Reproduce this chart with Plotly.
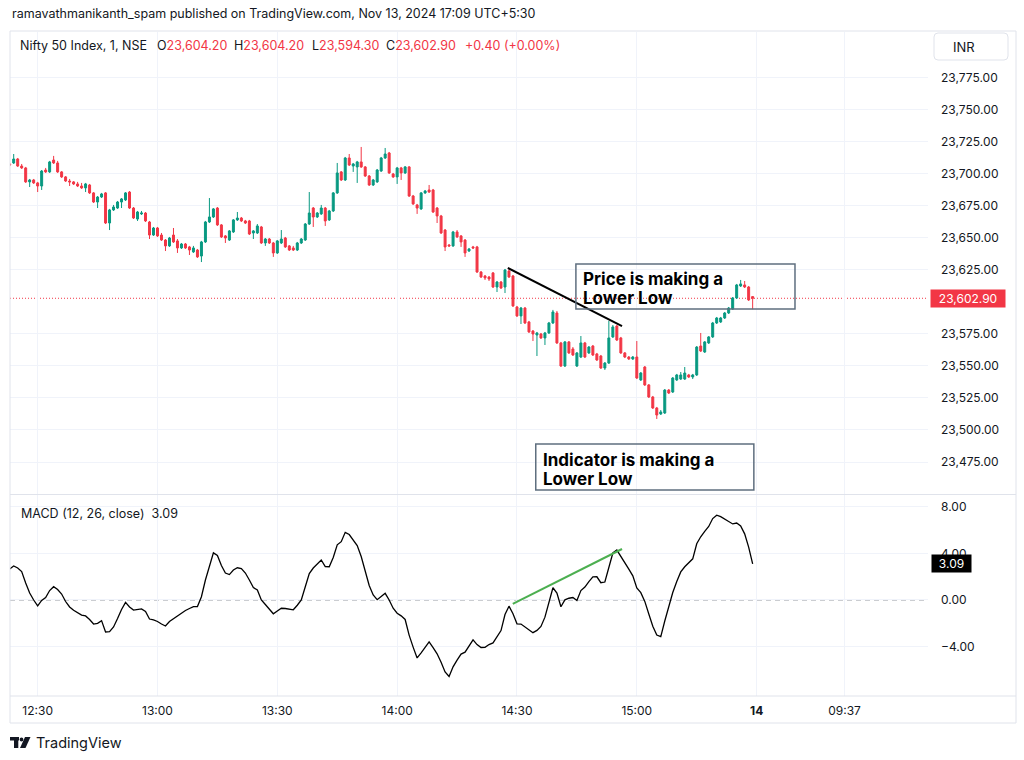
import plotly.graph_objects as go
import pandas as pd

# ---------------- data (Nifty 50, 1-minute bars, 13 Nov 2024, from 12:23) ----------------
open_ = [
    23707.8, 23708.6, 23711.7, 23706.2, 23704.7, 23693.8, 23695.3, 23693.0, 23690.6, 23703.1,
    23701.6, 23710.9, 23708.6, 23701.6, 23697.7, 23694.5, 23693.8, 23692.2, 23690.6, 23689.1,
    23691.4, 23685.2, 23678.1, 23682.0, 23685.2, 23661.7, 23671.9, 23673.4, 23678.1, 23679.7,
    23685.9, 23673.4, 23664.8, 23668.8, 23669.5, 23662.5, 23652.3, 23657.8, 23652.3, 23648.4,
    23643.8, 23652.3, 23647.7, 23642.2, 23645.3, 23643.0, 23639.1, 23640.6, 23635.9, 23646.9,
    23662.5, 23666.4, 23673.4, 23660.2, 23651.6, 23648.4, 23654.7, 23664.1, 23665.6, 23663.3,
    23663.3, 23653.9, 23653.9, 23658.6, 23646.1, 23649.2, 23646.1, 23638.3, 23646.1, 23650.0,
    23643.8, 23642.2, 23640.6, 23646.1, 23648.4, 23660.9, 23673.4, 23666.4, 23668.8, 23673.4,
    23664.1, 23671.1, 23685.2, 23701.6, 23695.3, 23712.5, 23706.2, 23705.5, 23709.4, 23705.5,
    23698.4, 23691.4, 23693.8, 23702.3, 23712.5, 23716.4, 23700.0, 23697.7, 23704.7, 23700.8,
    23705.5, 23682.8, 23675.8, 23672.7, 23685.2, 23687.5, 23687.5, 23673.4, 23667.2, 23656.2,
    23644.5, 23643.8, 23654.7, 23651.6, 23648.4, 23639.8, 23643.0, 23643.0, 23623.4, 23620.3,
    23619.5, 23622.7, 23611.7, 23615.6, 23611.7, 23624.2, 23620.3, 23596.1, 23589.1, 23595.3,
    23584.4, 23577.3, 23574.2, 23575.0, 23571.9, 23575.8, 23583.6, 23591.4, 23568.0, 23550.0,
    23568.8, 23563.3, 23550.0, 23557.0, 23568.0, 23560.2, 23565.6, 23559.4, 23557.8, 23548.4,
    23552.3, 23572.7, 23581.2, 23571.9, 23560.2, 23557.0, 23555.5, 23557.0, 23539.1, 23549.2,
    23535.2, 23525.8, 23517.2, 23512.5, 23513.3, 23531.2, 23529.7, 23539.1, 23539.8, 23539.8,
    23543.0, 23541.4, 23543.0, 23565.6, 23560.9, 23568.0, 23572.7, 23583.6, 23584.4, 23587.5,
    23591.4, 23594.5, 23603.1, 23612.5, 23613.3, 23611.7, 23604.2,
]
high = [
    23708.6, 23715.6, 23712.5, 23707.8, 23705.5, 23696.1, 23696.1, 23693.8, 23703.1, 23704.7,
    23710.2, 23714.1, 23710.2, 23702.3, 23698.4, 23696.1, 23694.5, 23693.8, 23693.0, 23693.0,
    23692.2, 23685.9, 23682.8, 23685.2, 23685.9, 23672.7, 23675.8, 23678.9, 23681.2, 23685.9,
    23686.7, 23674.2, 23671.1, 23671.1, 23670.3, 23663.3, 23658.6, 23658.6, 23653.9, 23649.2,
    23650.8, 23657.8, 23649.2, 23646.1, 23646.1, 23643.8, 23643.8, 23641.4, 23647.7, 23663.3,
    23681.2, 23673.4, 23674.2, 23660.9, 23652.3, 23656.2, 23664.8, 23670.3, 23666.4, 23664.1,
    23664.1, 23656.2, 23660.9, 23659.4, 23650.0, 23650.0, 23646.9, 23648.4, 23656.2, 23650.8,
    23644.5, 23643.8, 23646.9, 23650.0, 23661.7, 23685.9, 23674.2, 23670.3, 23675.8, 23674.2,
    23671.9, 23685.9, 23708.6, 23702.3, 23713.3, 23715.6, 23708.6, 23710.2, 23721.1, 23706.2,
    23699.2, 23696.1, 23703.9, 23713.3, 23720.3, 23717.2, 23700.8, 23705.5, 23705.5, 23706.2,
    23706.2, 23683.6, 23676.6, 23685.9, 23687.5, 23691.4, 23688.3, 23674.2, 23668.0, 23657.0,
    23645.3, 23655.5, 23656.2, 23652.3, 23649.2, 23642.2, 23643.8, 23643.8, 23624.2, 23621.1,
    23620.3, 23623.4, 23616.4, 23616.4, 23625.8, 23626.6, 23621.1, 23596.9, 23596.1, 23596.1,
    23585.2, 23578.1, 23576.6, 23575.8, 23576.6, 23584.4, 23593.8, 23593.0, 23568.8, 23569.5,
    23569.5, 23564.8, 23560.9, 23573.4, 23568.8, 23565.6, 23566.4, 23560.2, 23558.6, 23553.1,
    23585.2, 23582.0, 23582.0, 23572.7, 23560.9, 23557.8, 23557.8, 23569.5, 23545.3, 23550.0,
    23535.9, 23526.6, 23518.0, 23515.6, 23532.0, 23532.0, 23541.4, 23543.8, 23545.3, 23549.2,
    23543.8, 23543.8, 23565.6, 23575.8, 23569.5, 23573.4, 23584.4, 23588.3, 23588.3, 23592.2,
    23596.1, 23603.9, 23614.1, 23617.2, 23616.4, 23612.5, 23604.2,
]
low = [
    23706.2, 23707.8, 23705.5, 23703.9, 23693.0, 23689.8, 23692.2, 23685.9, 23687.5, 23700.8,
    23700.8, 23707.8, 23700.8, 23696.9, 23693.8, 23690.6, 23691.4, 23689.8, 23688.3, 23685.9,
    23684.4, 23677.3, 23673.4, 23681.2, 23660.9, 23656.2, 23671.1, 23672.7, 23673.4, 23678.9,
    23672.7, 23664.8, 23663.3, 23668.0, 23662.5, 23649.2, 23651.6, 23650.8, 23647.7, 23639.8,
    23643.0, 23646.1, 23638.3, 23641.4, 23641.4, 23636.7, 23638.3, 23634.4, 23631.2, 23646.1,
    23661.7, 23665.6, 23659.4, 23650.0, 23646.1, 23647.7, 23653.9, 23663.3, 23662.5, 23660.9,
    23652.3, 23649.2, 23653.1, 23645.3, 23643.8, 23645.3, 23635.2, 23637.5, 23645.3, 23642.2,
    23639.8, 23639.8, 23639.8, 23645.3, 23647.7, 23660.2, 23658.6, 23665.6, 23668.0, 23659.4,
    23663.3, 23670.3, 23684.4, 23694.5, 23694.5, 23706.2, 23701.6, 23693.0, 23704.7, 23697.7,
    23690.6, 23690.6, 23693.0, 23701.6, 23711.7, 23700.0, 23696.9, 23692.2, 23695.3, 23700.0,
    23682.0, 23675.8, 23668.8, 23671.9, 23684.4, 23685.2, 23669.5, 23661.7, 23653.1, 23639.8,
    23643.0, 23643.0, 23650.0, 23643.0, 23635.2, 23639.1, 23641.4, 23622.7, 23618.8, 23617.2,
    23616.4, 23610.9, 23607.8, 23610.2, 23607.0, 23618.8, 23596.1, 23588.3, 23582.8, 23582.8,
    23575.8, 23569.5, 23557.8, 23571.1, 23566.4, 23575.0, 23582.8, 23567.2, 23549.2, 23549.2,
    23559.4, 23557.8, 23549.2, 23556.2, 23556.2, 23559.4, 23557.8, 23553.9, 23547.7, 23546.9,
    23551.6, 23571.9, 23569.5, 23559.4, 23556.2, 23554.7, 23554.7, 23539.8, 23538.3, 23534.4,
    23525.0, 23516.4, 23508.6, 23511.7, 23512.5, 23528.1, 23528.9, 23538.3, 23539.1, 23539.1,
    23540.6, 23539.8, 23542.2, 23560.9, 23560.2, 23567.2, 23571.9, 23582.8, 23583.6, 23586.7,
    23590.6, 23593.8, 23602.3, 23611.7, 23610.9, 23600.8, 23594.3,
]
close = [
    23707.0, 23711.7, 23706.2, 23704.7, 23693.8, 23695.3, 23693.0, 23690.6, 23702.3, 23701.6,
    23709.4, 23708.6, 23701.6, 23697.7, 23694.5, 23693.8, 23692.2, 23690.6, 23689.1, 23692.2,
    23685.2, 23678.1, 23682.0, 23684.4, 23661.7, 23671.9, 23674.2, 23678.1, 23680.5, 23685.2,
    23673.4, 23665.6, 23670.3, 23669.5, 23663.3, 23652.3, 23657.8, 23651.6, 23648.4, 23643.8,
    23650.0, 23646.9, 23642.2, 23645.3, 23642.2, 23640.6, 23642.2, 23635.2, 23646.9, 23662.5,
    23666.4, 23672.7, 23660.2, 23650.8, 23650.0, 23655.5, 23664.1, 23665.6, 23663.3, 23661.7,
    23653.1, 23655.5, 23659.4, 23646.1, 23649.2, 23646.1, 23638.3, 23647.7, 23649.2, 23643.0,
    23640.6, 23640.6, 23646.1, 23649.2, 23660.9, 23669.5, 23666.4, 23669.5, 23673.4, 23663.3,
    23671.1, 23685.2, 23700.8, 23695.3, 23712.5, 23707.0, 23707.8, 23709.4, 23705.5, 23698.4,
    23691.4, 23695.3, 23703.1, 23712.5, 23715.6, 23700.8, 23697.7, 23704.7, 23700.8, 23705.5,
    23682.8, 23676.6, 23673.4, 23685.2, 23686.7, 23685.9, 23670.3, 23667.2, 23653.9, 23643.0,
    23643.8, 23654.7, 23650.8, 23646.9, 23638.3, 23641.4, 23642.2, 23623.4, 23619.5, 23618.8,
    23618.0, 23611.7, 23615.6, 23610.9, 23625.0, 23619.5, 23596.9, 23589.1, 23595.3, 23583.6,
    23576.6, 23575.0, 23575.8, 23571.9, 23575.8, 23583.6, 23592.2, 23568.0, 23550.0, 23568.8,
    23560.2, 23558.6, 23560.2, 23568.0, 23557.0, 23564.8, 23558.6, 23554.7, 23548.4, 23552.3,
    23571.9, 23580.5, 23570.3, 23560.2, 23557.0, 23555.5, 23557.0, 23540.6, 23544.5, 23535.2,
    23525.8, 23517.2, 23511.7, 23514.1, 23531.2, 23528.9, 23540.6, 23543.0, 23543.0, 23544.5,
    23541.4, 23543.0, 23564.8, 23561.7, 23568.8, 23572.7, 23583.6, 23587.5, 23587.5, 23591.4,
    23595.3, 23603.1, 23613.3, 23614.1, 23611.7, 23601.6, 23602.9,
]
macd = [
    2.66, 2.91, 2.74, 2.43, 1.46, 0.60, 0.00, -0.51, -0.04, 0.21,
    0.81, 1.14, 0.90, 0.51, -0.13, -0.60, -0.88, -1.09, -1.29, -1.37,
    -1.67, -2.06, -2.00, -1.77, -2.74, -2.72, -2.31, -1.59, -0.81, -0.21,
    -0.60, -0.86, -0.81, -0.77, -0.99, -1.63, -1.71, -1.84, -2.06, -2.23,
    -1.84, -1.59, -1.41, -1.09, -0.90, -0.73, -0.57, -0.56, 0.28, 1.71,
    3.00, 4.04, 3.81, 2.96, 2.31, 2.18, 2.57, 2.76, 2.70, 2.31,
    1.71, 1.07, 0.86, 0.00, -0.39, -0.81, -1.18, -0.94, -0.71, -0.73,
    -0.81, -0.84, -0.45, 0.00, 1.14, 2.27, 2.74, 3.13, 3.43, 2.87,
    2.85, 3.64, 4.73, 5.00, 5.80, 5.61, 5.18, 4.67, 3.73, 2.57,
    1.24, 0.43, 0.03, 0.30, 0.57, 0.00, -0.71, -1.13, -1.36, -1.67,
    -3.01, -4.04, -4.97, -4.53, -4.04, -3.59, -4.09, -4.61, -5.33, -6.17,
    -6.56, -5.73, -5.16, -4.64, -4.47, -3.98, -3.42, -3.82, -4.07, -4.06,
    -3.82, -3.68, -3.10, -2.62, -1.25, -0.53, -1.18, -2.04, -2.06, -2.31,
    -2.61, -2.80, -2.61, -2.27, -1.47, -0.27, 1.05, 0.59, -0.58, 0.01,
    0.15, 0.21, -0.05, 0.81, 1.11, 1.58, 1.98, 1.99, 1.48, 1.54,
    2.82, 4.03, 4.28, 3.77, 3.21, 2.64, 2.07, 1.04, 0.63, -0.12,
    -1.20, -2.25, -3.00, -3.14, -1.80, -0.51, 0.64, 1.59, 2.41, 2.85,
    3.15, 3.53, 4.82, 5.42, 5.88, 6.30, 6.98, 7.27, 7.15, 6.96,
    6.74, 6.52, 6.60, 6.34, 5.67, 4.53, 3.09,
]

# 23,600 is hidden behind the last-price label on the reference scale
price_ticks = [23475, 23500, 23525, 23550, 23575, 23625, 23650, 23675, 23700, 23725, 23750, 23775]
macd_ticks = [-4, 0, 4, 8]
macd_tick_text = ["\u22124.00", "0.00", "4.00", "8.00"]
tick_times = ["2024-11-13 12:30", "2024-11-13 13:00", "2024-11-13 13:30", "2024-11-13 14:00",
              "2024-11-13 14:30", "2024-11-13 15:00", "2024-11-14 09:15", "2024-11-14 09:37"]
tick_text = ["12:30", "13:00", "13:30", "14:00", "14:30", "15:00", "<b>14</b>", "09:37"]
change_text = "+0.40 (+0.00%)"

# drawing anchors (bar index, value)
trend_price = [(124.7, 23626.6), (153.3, 23581.2)]
trend_macd = [(125.95, -0.34), (153.3, 4.37)]
box_price = (141.75, 196.6, 23594.5, 23629.7)
box_macd = (131.7, 186.3, 23453.1, 23489.1)

# ---------------- build ----------------
n = len(close)
session1 = pd.date_range("2024-11-13 12:23", periods=n, freq="min")
session2 = pd.date_range("2024-11-14 09:15", periods=60, freq="min")
bar_times = list(session1) + list(session2)
bar_index = list(range(n))
tick_pos = [bar_times.index(pd.Timestamp(t)) for t in tick_times]
last = close[-1]

W, H = 1024, 760
def px(x): return x / W
def py(y): return 1 - y / H

GREEN, RED = "#089981", "#f23645"
TXT, GRID, BORDER = "#131722", "#f0f3fa", "#e0e3eb"
FONT = "Inter"
XR = [0.075, 229.9]

fig = go.Figure()
fig.add_trace(go.Candlestick(
    x=bar_index, open=open_, high=high, low=low, close=close,
    increasing=dict(line=dict(color=GREEN, width=1), fillcolor=GREEN),
    decreasing=dict(line=dict(color=RED, width=1), fillcolor=RED),
    whiskerwidth=0, xaxis="x", yaxis="y", showlegend=False, hoverinfo="skip"))
fig.add_trace(go.Scatter(
    x=bar_index, y=macd, mode="lines", line=dict(color="#000000", width=1.3),
    xaxis="x2", yaxis="y2", showlegend=False, hoverinfo="skip"))

axis_common = dict(showline=False, zeroline=False, ticks="", fixedrange=True,
                   gridcolor=GRID, gridwidth=1, tickfont=dict(family=FONT, size=12, color=TXT))
fig.update_layout(
    width=W, height=H, margin=dict(l=0, r=0, t=0, b=0),
    paper_bgcolor="white", plot_bgcolor="white", showlegend=False,
    font=dict(family=FONT, color=TXT),
    xaxis=dict(domain=[px(10), px(928)], range=XR, anchor="y", tickvals=tick_pos,
               showticklabels=False, showgrid=True, rangeslider=dict(visible=False), **axis_common),
    xaxis2=dict(domain=[px(10), px(928)], range=XR, anchor="y2", tickvals=tick_pos, ticktext=tick_text,
                showgrid=True, ticklabelstandoff=6, **axis_common),
    yaxis=dict(domain=[py(494), py(32)], range=[23450.0, 23810.9], side="right", anchor="x",
               tickvals=price_ticks, tickformat=",.2f", showgrid=True, ticklabelstandoff=12,
               automargin=False, **axis_common),
    yaxis2=dict(domain=[py(696), py(495)], range=[-8.23, 9.0], side="right", anchor="x2",
                tickvals=macd_ticks, ticktext=macd_tick_text, showgrid=True, ticklabelstandoff=12,
                automargin=False, **axis_common),
)

shapes = []
# frame
for (x0, y0, x1, y1) in [(10, 31, 1016, 31), (10, 31, 10, 723), (1016, 31, 1016, 723),
                         (10, 723, 1016, 723), (10, 494.5, 1016, 494.5), (10, 696, 1016, 696)]:
    shapes.append(dict(type="line", xref="paper", yref="paper", x0=px(x0), y0=py(y0), x1=px(x1), y1=py(y1),
                       line=dict(color=BORDER, width=1)))
shapes.append(dict(type="line", xref="paper", yref="y", x0=px(10), x1=px(928), y0=last, y1=last,
                   line=dict(color=RED, width=1, dash="1px,2px"), layer="below"))
shapes.append(dict(type="line", xref="paper", yref="y2", x0=px(10), x1=px(928), y0=0, y1=0,
                   line=dict(color="#9598a1", width=1, dash="5px,4px"), layer="below"))
shapes.append(dict(type="line", xref="x", yref="y", x0=trend_price[0][0], y0=trend_price[0][1],
                   x1=trend_price[1][0], y1=trend_price[1][1], line=dict(color="#000000", width=2)))
shapes.append(dict(type="line", xref="x2", yref="y2", x0=trend_macd[0][0], y0=trend_macd[0][1],
                   x1=trend_macd[1][0], y1=trend_macd[1][1], line=dict(color="#4caf50", width=2)))
for (x0, x1, y0, y1) in [box_price, box_macd]:
    shapes.append(dict(type="rect", xref="x", yref="y", x0=x0, x1=x1, y0=y0, y1=y1,
                       line=dict(color="#5f6f7f", width=1.5), fillcolor="rgba(0,0,0,0)"))
# INR button (rounded)
bx0, by0, bx1, by1, r = 934, 33, 1008, 60, 4
path = (f"M {px(bx0+r)} {py(by0)} L {px(bx1-r)} {py(by0)} Q {px(bx1)} {py(by0)} {px(bx1)} {py(by0+r)} "
        f"L {px(bx1)} {py(by1-r)} Q {px(bx1)} {py(by1)} {px(bx1-r)} {py(by1)} "
        f"L {px(bx0+r)} {py(by1)} Q {px(bx0)} {py(by1)} {px(bx0)} {py(by1-r)} "
        f"L {px(bx0)} {py(by0+r)} Q {px(bx0)} {py(by0)} {px(bx0+r)} {py(by0)} Z")
shapes.append(dict(type="path", xref="paper", yref="paper", path=path,
                   line=dict(color=BORDER, width=1), fillcolor="white"))
# TradingView logo
shapes.append(dict(type="rect", xref="paper", yref="paper", x0=px(10), x1=px(19), y0=py(740.5), y1=py(737),
                   line=dict(width=0), fillcolor=TXT))
shapes.append(dict(type="rect", xref="paper", yref="paper", x0=px(14), x1=px(18.3), y0=py(748), y1=py(737),
                   line=dict(width=0), fillcolor=TXT))
shapes.append(dict(type="circle", xref="paper", yref="paper", x0=px(19.6), x1=px(23.4), y0=py(741.4), y1=py(737.6),
                   line=dict(width=0), fillcolor=TXT))
shapes.append(dict(type="path", xref="paper", yref="paper",
                   path=f"M {px(25)} {py(737)} L {px(30.5)} {py(737)} L {px(25.5)} {py(748)} L {px(20)} {py(748)} Z",
                   line=dict(width=0), fillcolor=TXT))
fig.update_layout(shapes=shapes)

def txt(x, y, s, size=12.5, color=TXT, xanchor="left", bold=False, **kw):
    return dict(xref="paper", yref="paper", x=px(x), y=py(y), text=(f"<b>{s}</b>" if bold else s),
                showarrow=False, xanchor=xanchor, yanchor="middle",
                font=dict(family=FONT, size=size, color=color), **kw)

def red(s):
    return f"<span style='color:{RED}'>{s}</span>"

ann = [
    txt(10, 14, "ramavathmanikanth_spam published on TradingView.com, Nov 13, 2024 17:09 UTC+5:30"),
    txt(18, 45, "Nifty 50 Index, 1, NSE"),
    txt(155, 45, "O" + red(f"{open_[-1]:,.2f}")),
    txt(232, 45, "H" + red(f"{high[-1]:,.2f}")),
    txt(310, 45, "L" + red(f"{low[-1]:,.2f}")),
    txt(384, 45, "C" + red(f"{close[-1]:,.2f}")),
    txt(463, 45, red(change_text)),
    txt(19, 513, f"MACD (12, 26, close)\u00a0\u00a0{macd[-1]:.2f}"),
    txt(581, 278.5, "Price is making a", size=17, bold=True, color="#000000"),
    txt(581, 297.5, "Lower Low", size=17, bold=True, color="#000000"),
    txt(541, 459.5, "Indicator is making a", size=17, bold=True, color="#000000"),
    txt(541, 478.5, "Lower Low", size=17, bold=True, color="#000000"),
    txt(951, 46.5, "INR", size=13),
    txt(34, 742.5, "TradingView", size=14.5),
    dict(xref="paper", yref="y", x=px(930), y=last, text=f"{last:,.2f}", showarrow=False,
         xanchor="left", yanchor="middle", bgcolor=RED, width=72, height=15, borderpad=1,
         font=dict(family=FONT, size=12, color="white")),
    dict(xref="paper", yref="y2", x=px(931), y=macd[-1], text=f"{macd[-1]:.2f}", showarrow=False,
         xanchor="left", yanchor="middle", bgcolor="#000000", width=37, height=15, borderpad=1,
         font=dict(family=FONT, size=12, color="white")),
]
fig.update_layout(annotations=ann)

fig.write_html("out.html")
